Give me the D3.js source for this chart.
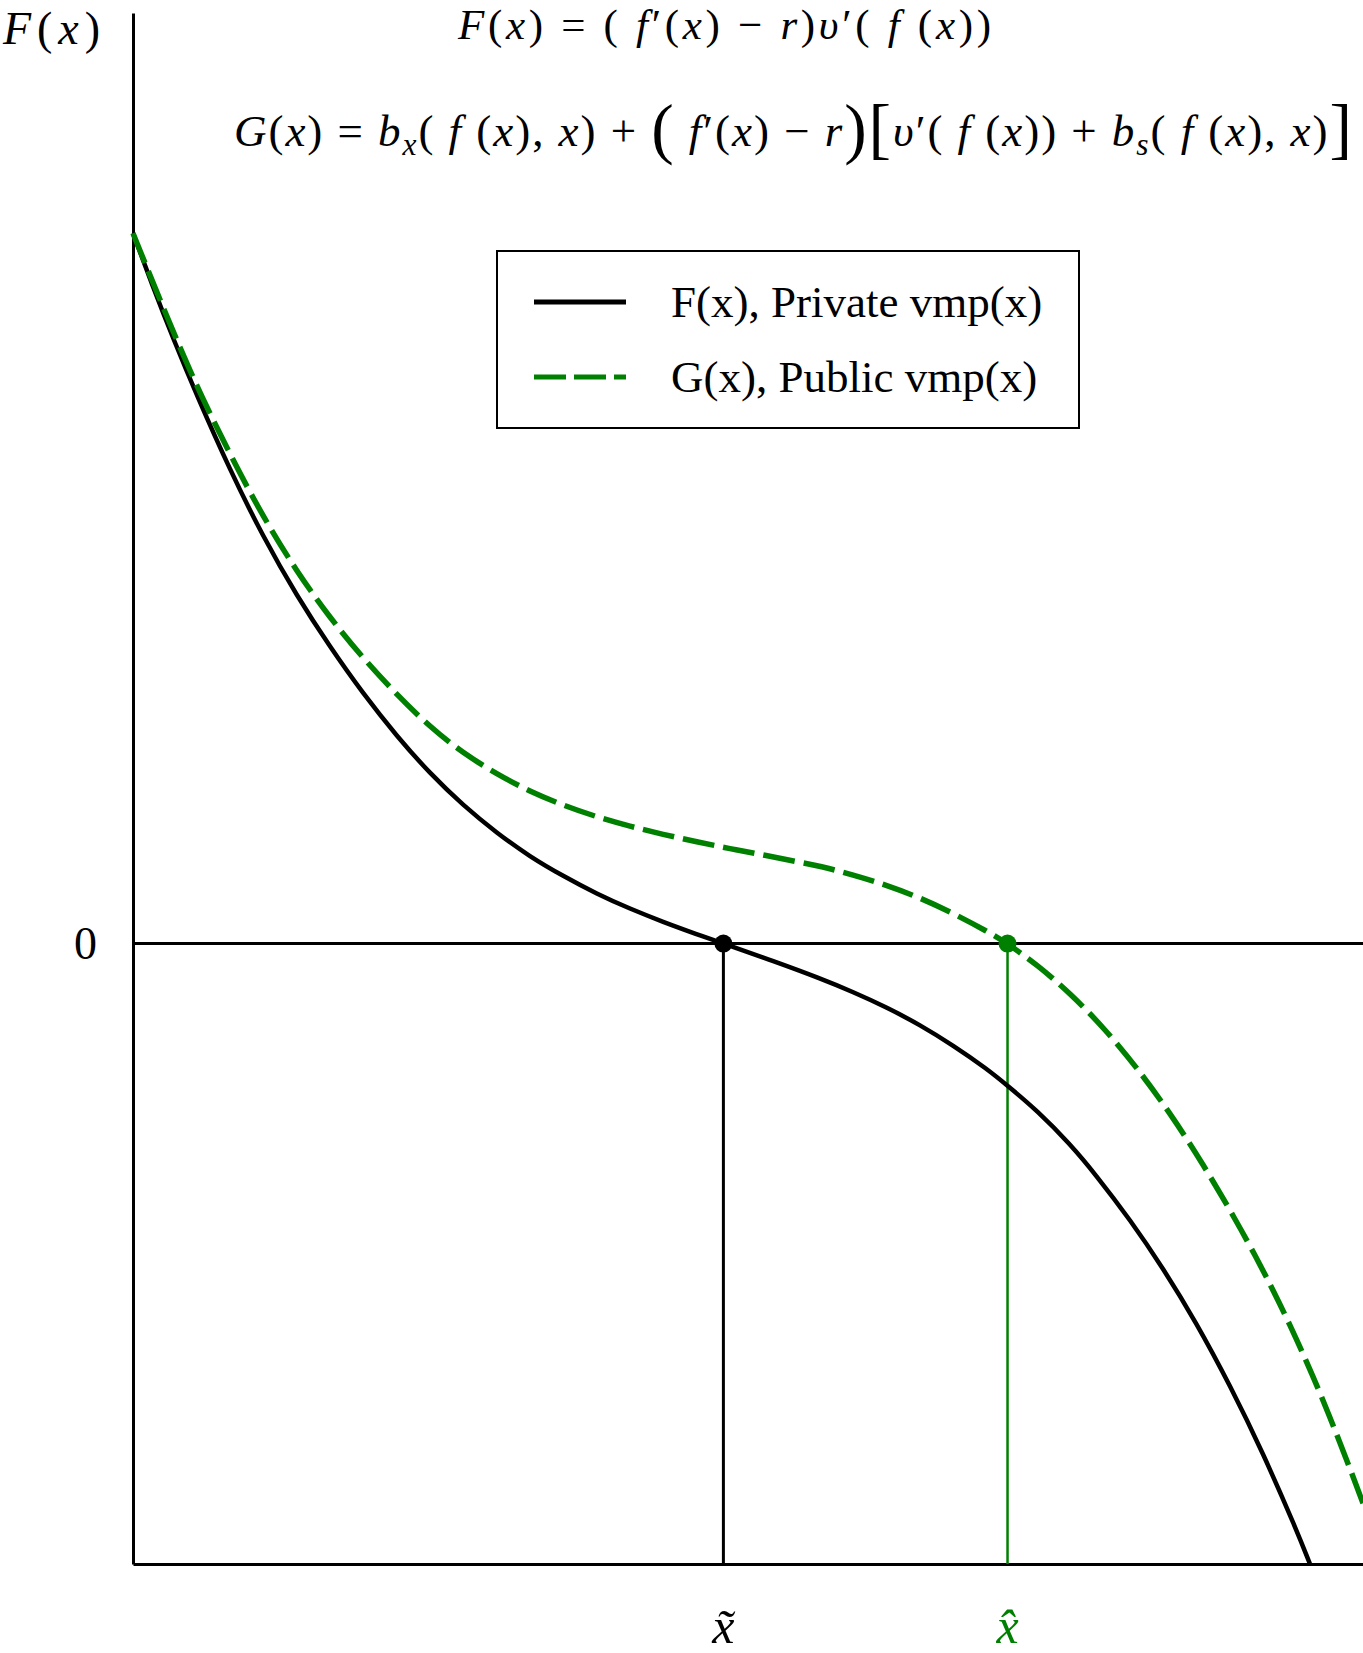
<!DOCTYPE html>
<html>
<head>
<meta charset="utf-8">
<script src="https://cdn.jsdelivr.net/npm/d3@7"></script>
<style>
  body { margin: 0; background: #fff; }
  text { font-family: "Liberation Serif", "Times New Roman", serif; }
</style>
</head>
<body>
<div id="chart"></div>
<script>
// private value of marginal product, F(x)
var fX = [0, 0.163, 0.325, 0.52, 0.789, 1.057, 1.333, 1.602, 1.87, 2.146, 2.415, 2.683, 2.959, 3.228, 3.496, 3.772, 4.041, 4.309, 4.585, 4.8,
          5.203, 5.585, 5.854, 6.13, 6.398, 6.667, 6.943, 7.11, 7.35, 7.618, 7.829, 8.106, 8.374, 8.642, 8.919, 9.187, 9.455, 9.569];
var fY = [1.145, 1.058, 0.976, 0.883, 0.763, 0.656, 0.560, 0.478, 0.403, 0.334, 0.274, 0.223, 0.178, 0.140, 0.109, 0.080, 0.056, 0.035, 0.015, 0,
          -0.028, -0.056, -0.078, -0.103, -0.131, -0.164, -0.202, -0.229, -0.269, -0.323, -0.373, -0.445, -0.523, -0.610, -0.712, -0.821, -0.943, -1.0];

// public value of marginal product, G(x)
var gX = [0, 0.22, 0.488, 0.789, 1.057, 1.333, 1.602, 1.87, 2.146, 2.415, 2.683, 2.959, 3.228, 3.496, 3.772, 4.041, 4.309, 4.585, 4.854, 5.122,
          5.398, 5.585, 5.854, 6.13, 6.398, 6.667, 6.943, 7.11, 7.35, 7.618, 7.886, 8.163, 8.431, 8.699, 8.967, 9.13, 9.268, 9.407, 9.537, 9.659,
          9.78, 9.894, 10];
var gY = [1.145, 1.037, 0.910, 0.788, 0.688, 0.599, 0.525, 0.460, 0.401, 0.349, 0.307, 0.273, 0.245, 0.223, 0.204, 0.189, 0.176, 0.164, 0.153, 0.143,
          0.132, 0.125, 0.111, 0.094, 0.074, 0.049, 0.020, 0, -0.034, -0.080, -0.134, -0.200, -0.273, -0.355, -0.446, -0.505, -0.558, -0.615, -0.672, -0.728,
          -0.788, -0.846, -0.902];

// roots of F and G
var xTilde = 4.8;
var xHat = 7.11;

var legendLabels = ["F(x), Private vmp(x)", "G(x), Public vmp(x)"];
var legendColors = ["#000", "#008000"];
var yTickValues = [0];

var width = 1363, height = 1653;
var green = "#008000";

var svg = d3.select("#chart").append("svg")
            .attr("width", width)
            .attr("height", height);

var x = d3.scaleLinear().domain([0, 10]).range([133, 1363]);
var y = d3.scaleLinear().domain([-1, 1.5]).range([1564, 13]);

// axes
var yAxis = d3.axisLeft(y).tickValues(yTickValues).tickFormat(d3.format("d"))
              .tickSize(0).tickSizeOuter(0).tickPadding(36);
var gy = svg.append("g").attr("transform", "translate(" + x(0) + ",0)").call(yAxis);
gy.select(".domain").attr("stroke-width", 3);
gy.selectAll("text")
  .attr("font-family", "Liberation Serif")
  .attr("font-size", 46)
  .attr("fill", "#000");

var xAxis = d3.axisBottom(x).tickValues([]).tickSizeOuter(0);
var gx = svg.append("g").attr("transform", "translate(0," + y(-1) + ")").call(xAxis);
gx.select(".domain").attr("stroke-width", 3);

// zero line
svg.append("line")
   .attr("x1", x(0)).attr("x2", x(10))
   .attr("y1", y(0)).attr("y2", y(0))
   .attr("stroke", "#000").attr("stroke-width", 3);

// drop lines from the roots
svg.append("line")
   .attr("x1", x(xTilde)).attr("x2", x(xTilde))
   .attr("y1", y(0)).attr("y2", y(-1))
   .attr("stroke", "#000").attr("stroke-width", 3);
svg.append("line")
   .attr("x1", x(xHat)).attr("x2", x(xHat))
   .attr("y1", y(0)).attr("y2", y(-1))
   .attr("stroke", green).attr("stroke-width", 2.5);

// curves
var line = d3.line()
    .x(function(d) { return x(d[0]); })
    .y(function(d) { return y(d[1]); })
    .curve(d3.curveBasis);

svg.append("path")
   .datum(fX.map(function(v, i) { return [v, fY[i]]; }))
   .attr("d", line)
   .attr("fill", "none")
   .attr("stroke", "#000")
   .attr("stroke-width", 4.5);

svg.append("path")
   .datum(gX.map(function(v, i) { return [v, gY[i]]; }))
   .attr("d", line)
   .attr("fill", "none")
   .attr("stroke", green)
   .attr("stroke-width", 5.5)
   .attr("stroke-dasharray", "32,9");

// dots on the roots
svg.append("circle").attr("cx", x(xTilde)).attr("cy", y(0)).attr("r", 9).attr("fill", "#000");
svg.append("circle").attr("cx", x(xHat)).attr("cy", y(0)).attr("r", 9).attr("fill", green);

// root labels (x with combining tilde / circumflex)
function rootLabel(xv, accent, color) {
  svg.append("text")
     .attr("x", x(xv)).attr("y", 1643)
     .attr("text-anchor", "middle")
     .attr("font-size", 50).attr("font-style", "italic")
     .attr("fill", color)
     .text("x" + accent);
}
rootLabel(xTilde, "\u0303", "#000");
rootLabel(xHat, "\u0302", green);

// legend
var legend = svg.append("g");
legend.append("rect")
      .attr("x", 497).attr("y", 251)
      .attr("width", 582).attr("height", 177)
      .attr("fill", "#fff").attr("stroke", "#000").attr("stroke-width", 2);

legendLabels.forEach(function(lab, i) {
  var ly = 302 + i * 75;
  legend.append("line")
        .attr("x1", 534).attr("x2", 626)
        .attr("y1", ly).attr("y2", ly)
        .attr("stroke", legendColors[i])
        .attr("stroke-width", 5)
        .attr("stroke-dasharray", i == 1 ? "32,8" : null);
  legend.append("text")
        .attr("x", 671).attr("y", ly + 15)
        .attr("font-size", 45)
        .text(lab);
});

// math text: [text, italic, scale, shift]
function mathText(segs, x0, x1, base, size) {
  var t = svg.append("text")
             .attr("x", x0).attr("y", base)
             .attr("font-size", size)
             .attr("textLength", x1 - x0)
             .attr("lengthAdjust", "spacing");
  var prev = 0;
  segs.forEach(function(s) {
    var sp = t.append("tspan").text(s[0]);
    if (s[1]) sp.attr("font-style", "italic");
    var sc = s[2] || 1, sh = s[3] || 0;
    if (sc != 1) sp.attr("font-size", size * sc);
    if (sh != prev) sp.attr("dy", sh - prev);
    prev = sh;
  });
  return t;
}

mathText([["F", 1], ["(", 0], ["x", 1], [")", 0]], 3, 100, 44, 46);

var eq1 = [["F", 1], ["(", 0], ["x", 1], [") = ( ", 0], ["f", 1], ["\u2032(", 0], ["x", 1], [") \u2212 ", 0],
           ["r", 1], [")", 0], ["\u03C5", 1], ["\u2032( ", 0], ["f", 1], [" (", 0], ["x", 1], ["))", 0]];
mathText(eq1, 458, 991, 39, 43);

var eq2 = [["G", 1], ["(", 0], ["x", 1], [") = ", 0], ["b", 1], ["x", 1, 0.7, 9], ["( ", 0], ["f", 1], [" (", 0], ["x", 1],
           ["), ", 0], ["x", 1], [") + ", 0], ["(", 0, 1.5, 5], [" f", 1], ["\u2032(", 0], ["x", 1], [") \u2212 ", 0], ["r", 1],
           ["", 0], [")", 0, 1.5, 5], ["[", 0, 1.5, 5], ["\u03C5", 1], ["\u2032( ", 0], ["f", 1], [" (", 0], ["x", 1], [")) + ", 0],
           ["b", 1], ["s", 1, 0.7, 9], ["( ", 0], ["f", 1], [" (", 0], ["x", 1], ["), ", 0], ["x", 1], [")", 0], ["]", 0, 1.5, 5]];
mathText(eq2, 234, 1352, 146, 45);
</script>
</body>
</html>
